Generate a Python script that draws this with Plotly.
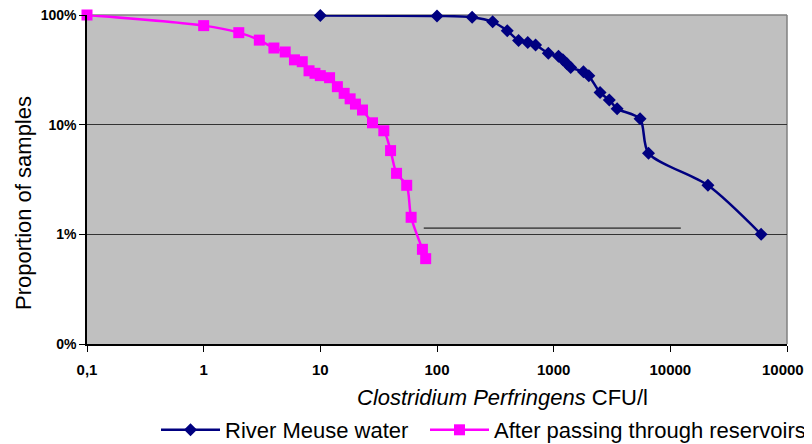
import plotly.graph_objects as go

# Data (x: CFU/l, y: proportion of samples)
meuse_x = [10, 100, 200, 300, 400, 500, 600, 700, 900, 1100, 1200, 1300, 1400,
           1800, 2000, 2500, 3000, 3500, 5500, 6500, 21000, 60000]
meuse_y = [0.99, 0.98, 0.955, 0.866, 0.719, 0.585, 0.562, 0.533, 0.448, 0.42,
           0.39, 0.36, 0.332, 0.304, 0.279, 0.196, 0.168, 0.14, 0.113, 0.055,
           0.028, 0.01]

reservoir_x = [0.1, 1, 2, 3, 4, 5, 6, 7, 8, 9, 10, 12, 14, 16, 18, 20, 23, 28,
               35, 40, 45, 55, 60, 75, 80]
reservoir_y = [1.0, 0.80, 0.69, 0.59, 0.50, 0.46, 0.39, 0.375, 0.31, 0.294,
               0.28, 0.268, 0.222, 0.193, 0.172, 0.154, 0.136, 0.104, 0.088,
               0.058, 0.036, 0.028, 0.0143, 0.0073, 0.006]

x_tickvals = [0.1, 1, 10, 100, 1000, 10000, 100000]
x_ticktext = ["0,1", "1", "10", "100", "1000", "10000", "100000"]
y_tickvals = [0.001, 0.01, 0.1, 1]
y_ticktext = ["0%", "1%", "10%", "100%"]

stray_line_x = [77, 12300]
stray_line_y = [0.0114, 0.0114]

FONT = "Liberation Sans, Arial, sans-serif"

fig = go.Figure()
fig.add_trace(go.Scatter(
    x=stray_line_x, y=stray_line_y, mode="lines",
    line=dict(color="black", width=1), showlegend=False, hoverinfo="skip"))
fig.add_trace(go.Scatter(
    x=meuse_x, y=meuse_y, mode="lines+markers", name="River Meuse water",
    line=dict(color="#000080", width=2.5, shape="spline", smoothing=0.8),
    marker=dict(symbol="diamond", size=10, color="#000080"),
    cliponaxis=False, legend="legend"))
fig.add_trace(go.Scatter(
    x=reservoir_x, y=reservoir_y, mode="lines+markers",
    name="After passing through reservoirs",
    line=dict(color="#FF00FF", width=2.5, shape="spline", smoothing=0.8),
    marker=dict(symbol="square", size=11, color="#FF00FF"),
    cliponaxis=False, legend="legend2"))

legend_common = dict(orientation="h", xanchor="left",
                     y=(344 - 430) / 329, yanchor="middle",
                     font=dict(size=22, family=FONT),
                     bgcolor="rgba(0,0,0,0)", itemwidth=59)

# page body has an 8px margin: figure spans x 8..812, y 8..444
fig.update_layout(
    width=804, height=436,
    margin=dict(l=79, r=25, t=7, b=100, autoexpand=False),
    paper_bgcolor="white",
    plot_bgcolor="#C0C0C0",
    font=dict(family=FONT, color="black"),
    showlegend=True,
    legend=dict(x=(156 - 87) / 700, **legend_common),
    legend2=dict(x=(425 - 87) / 700, **legend_common),
    xaxis=dict(type="log", range=[-1, 5], tickvals=x_tickvals,
               ticktext=x_ticktext, showgrid=False, zeroline=False,
               showline=True, linecolor="black", linewidth=1.5,
               ticks="outside", ticklen=6, tickcolor="black",
               ticklabelstandoff=5, ticklabeloverflow="allow",
               automargin=False,
               tickfont=dict(size=15, family=FONT, weight="bold")),
    yaxis=dict(type="log", range=[-3, 0], tickvals=y_tickvals,
               ticktext=y_ticktext, showgrid=True, gridcolor="#333333",
               gridwidth=1, zeroline=False, showline=True,
               linecolor="black", linewidth=1.5, ticks="outside",
               ticklen=6, tickcolor="black", automargin=False,
               ticklabeloverflow="allow",
               tickfont=dict(size=14, family=FONT, weight="bold")),
    annotations=[
        dict(text="<i>Clostridium Perfringens</i> CFU/l", xref="paper",
             yref="paper", x=(502 - 87) / 700, y=(344 - 397) / 329,
             xanchor="center", yanchor="middle", showarrow=False,
             font=dict(size=22, family=FONT)),
        dict(text="Proportion of samples", xref="paper", yref="paper",
             x=(23 - 87) / 700, y=(344 - 203) / 329, xanchor="center",
             yanchor="middle", textangle=-90, showarrow=False,
             font=dict(size=22, family=FONT)),
    ],
    shapes=[
        dict(type="line", xref="paper", yref="paper", x0=0, x1=1, y0=1, y1=1,
             line=dict(color="#808080", width=1.5), layer="below"),
        dict(type="line", xref="paper", yref="paper", x0=1, x1=1, y0=0, y1=1,
             line=dict(color="#808080", width=1.5), layer="below"),
    ],
)

fig.write_html("out.html")
